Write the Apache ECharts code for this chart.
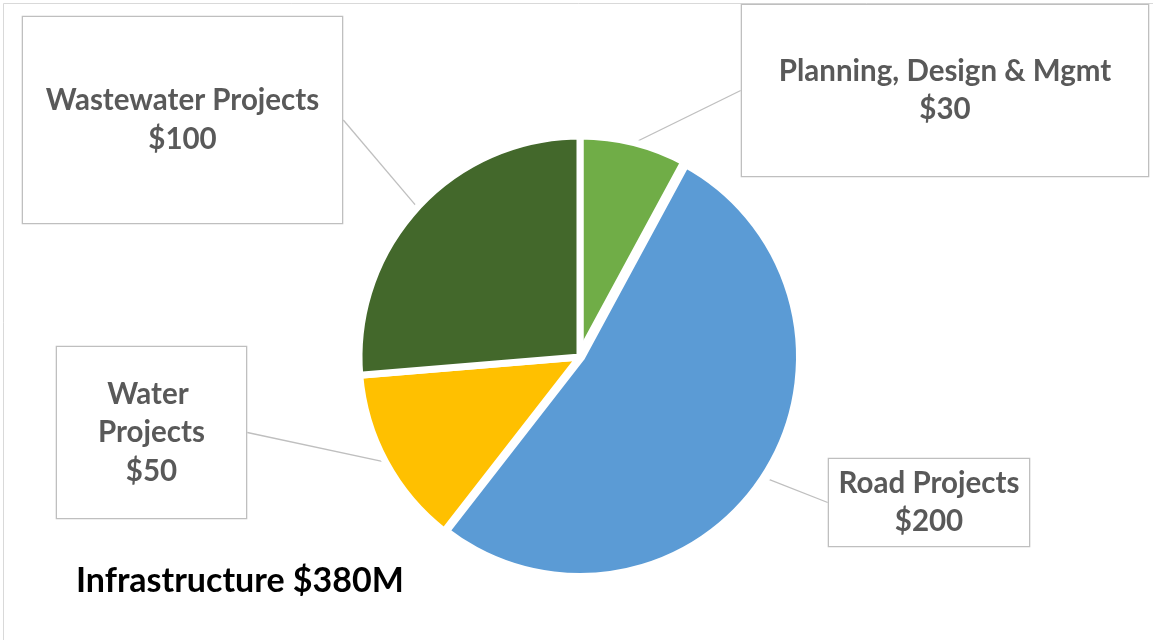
<!DOCTYPE html>
<html>
<head>
<meta charset="utf-8">
<script src="https://cdn.jsdelivr.net/npm/echarts@6/dist/echarts.min.js"></script>
<style>
  html, body { margin: 0; padding: 0; background: #fff; }
  #chart { width: 1153px; height: 640px; }
</style>
</head>
<body>
<div id="chart"></div>
<script>
// data, clockwise from 12 o'clock
var categories = ['Planning, Design & Mgmt', 'Road Projects', 'Water Projects', 'Wastewater Projects'];
var values = [30, 200, 50, 100];
var colors = ['#70AD47', '#5B9BD5', '#FFC000', '#43682B'];
var titleText = 'Infrastructure $380M';

// label boxes: left, top, width, height, side padding
var boxes = [
  [742, 5, 406, 171, 8],
  [829, 459, 200, 87, 3],
  [57, 347, 189, 171, 20],
  [23, 17, 319, 206, 8]
];
var LINE_H = 38.5;
var FONT = 'Lato, "Noto Sans", sans-serif';

var myChart = echarts.init(document.getElementById('chart'));

var pieData = categories.map(function (name, i) {
  var b = boxes[i];
  var nLines = (i === 2) ? 3 : 2;
  var vpad = (b[3] - nLines * LINE_H) / 2;
  return {
    name: name,
    value: values[i],
    // road slice is pulled out a little in the original; a wider white edge stands in for it
    itemStyle: { color: colors[i], borderWidth: i === 1 ? 10 : 7 },
    label: {
      width: b[2] - 2 * b[4],
      padding: [vpad + 3, b[4], vpad - 3, b[4]]
    }
  };
});

var option = {
  animation: false,
  backgroundColor: '#fff',
  title: {
    text: titleText,
    left: 71,
    top: 559,
    textStyle: { fontFamily: FONT, fontWeight: 'bold', fontSize: 34, color: '#000' }
  },
  graphic: [{
    type: 'rect',
    shape: { x: 3.5, y: 3.5, width: 1200, height: 700 },
    style: { fill: 'none', stroke: '#D9D9D9', lineWidth: 1 },
    silent: true
  }],
  series: [{
    type: 'pie',
    center: [580, 357],
    radius: 221,
    startAngle: 90,
    clockwise: true,
    avoidLabelOverlap: false,
    itemStyle: { borderColor: '#fff', borderWidth: 7 },
    emphasis: { disabled: true },
    label: {
      show: true,
      position: 'outer',
      formatter: function (p) { return p.name + '\n$' + p.value; },
      color: '#595959',
      fontFamily: FONT,
      fontWeight: 'bold',
      fontSize: 29.5,
      lineHeight: LINE_H,
      align: 'center',
      overflow: 'break',
      backgroundColor: '#fff',
      borderColor: '#BFBFBF',
      borderWidth: 1.3
    },
    labelLine: {
      show: true,
      length: 10,
      length2: 0,
      lineStyle: { color: '#BFBFBF', width: 1.3 }
    },
    labelLayout: function (params) {
      var b = boxes[params.dataIndex];
      return {
        x: b[0] + b[2] / 2,
        y: b[1] + b[3] / 2,
        align: 'center',
        verticalAlign: 'middle'
      };
    },
    data: pieData
  }]
};

myChart.setOption(option);
</script>
</body>
</html>
